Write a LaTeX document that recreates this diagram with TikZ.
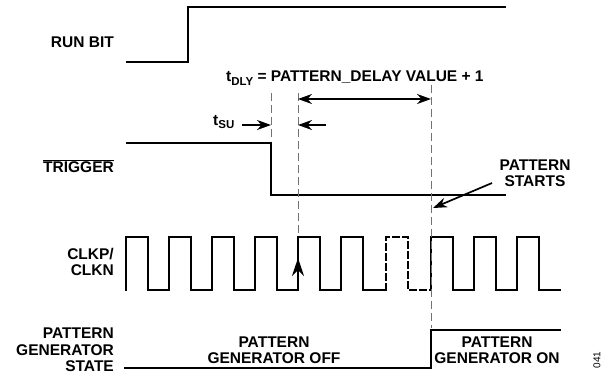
\documentclass[tikz,border=0pt]{standalone}
\usepackage{fontspec}
\setmainfont{Liberation Sans}
\usepackage{tikz}
\usetikzlibrary{arrows.meta,positioning}
\definecolor{ink}{RGB}{0,0,0}
\definecolor{guidegray}{RGB}{115,115,115}
\newcommand{\tsub}[1]{t\raisebox{-0.45ex}{\fontsize{11.5}{11.5}\selectfont #1}}
\tikzset{
  sig/.style={draw=ink,line width=2.6pt,line cap=rect,line join=miter},
  guide/.style={draw=guidegray,line width=1pt,dash pattern=on 8pt off 4pt},
  arr/.style={-{Stealth[length=14pt,width=10pt]},draw=ink,line width=2pt},
  lbl/.style={font=\fontsize{15.5}{16.5}\selectfont\bfseries,align=right,anchor=east,inner sep=0pt},
  note/.style={font=\fontsize{15.5}{16.5}\selectfont\bfseries,align=center,inner sep=0pt}
}
\begin{document}
\begin{tikzpicture}[x=1pt,y=-1pt]
\useasboundingbox (0,0) rectangle (610,376);
% signal names
\node[lbl] (runlbl) at (114,42) {RUN BIT};
\node[lbl] (triglbl) at (114,166) {$\overline{\hbox{TRIGGER}}$};
\node[lbl] (clklbl) at (114,262) {CLKP/\\CLKN};
\node[lbl] (statelbl) at (114,350) {PATTERN\\GENERATOR\\STATE};
% waveforms
\draw[sig] (127,62) -- (188,62) -- (188,7) -- (505,7);
\draw[sig] (127,143) -- (271,143) -- (271,195) -- (505,195);
\foreach \r/\f/\n in {126/148/169,169/191/212,212/234/255,255/277/298,298/320/341,341/363/386,431/453/474,474/496/517,517/539/560}
  \draw[sig] (\r,290) -- (\r,237) -- (\f,237) -- (\f,290) -- (\n,290);
\draw[sig,dash pattern=on 6pt off 4pt] (386,290) -- (386,237) -- (408,237) -- (408,290) -- (431,290);
\draw[sig] (125,368) -- (431,368) -- (431,330) -- (560,330);
% timing guides
\coordinate (suA) at (271,93);
\coordinate (suB) at (298,93);
\coordinate (dlyB) at (431,85);
\draw[guide] (suA) -- (271,141);
\draw[guide] (suB) -- (298,235);
\draw[guide] (dlyB) -- (431,328);
% delay and setup arrows
\coordinate (dlyL) at (298,99);
\coordinate (dlyR) at (431,99);
\draw[arr,{Stealth[length=14pt,width=10pt]}-{Stealth[length=14pt,width=10pt]}] (dlyL) -- (dlyR);
\node[note,anchor=west] (dlylbl) at (226,78) {\tsub{DLY} = PATTERN\_DELAY VALUE + 1};
\node[note,anchor=west] (sulbl) at (213,122) {\tsub{SU}};
\coordinate (suL) at (242,125);
\coordinate (suR) at (271,125);
\draw[arr] (suL) -- (suR);
\coordinate (suM) at (326,125);
\coordinate (suN) at (298,125);
\draw[arr] (suM) -- (suN);
% clock edge that latches the trigger
\coordinate (edgeA) at (298,285);
\coordinate (edgeB) at (298,258);
\draw[arr,-{Stealth[length=18pt,width=12pt]}] (edgeA) -- (edgeB);
% pattern start
\node[note] (startlbl) at (535,173) {PATTERN\\STARTS};
\coordinate (startpt) at (433,208);
\draw[arr,line width=1.7pt] (492,183) -- (startpt);
% state labels
\node[note] (offlbl) at (274,350) {PATTERN\\GENERATOR OFF};
\node[note] (onlbl) at (497,350) {PATTERN\\GENERATOR ON};
\node[font=\fontsize{10}{10}\selectfont,rotate=90,inner sep=0pt] (figno) at (597,360) {041};
\end{tikzpicture}
\end{document}
